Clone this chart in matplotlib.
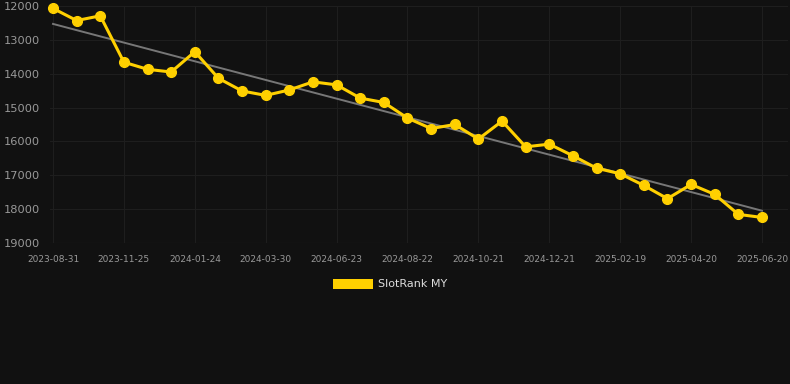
import numpy as np
import matplotlib.pyplot as plt
from matplotlib.patches import Patch

# rank per snapshot (lower is better, axis inverted)
ranks = [12070, 12430, 12290, 13660, 13870, 13950, 13350, 14135, 14510, 14640,
         14480, 14240, 14330, 14720, 14850, 15310, 15620, 15500, 15930, 15400,
         16160, 16080, 16425, 16790, 16955, 17300, 17690, 17270, 17565, 18155,
         18245]
tick_labels = ['2023-08-31', '2023-11-25', '2024-01-24', '2024-03-30', '2024-06-23',
               '2024-08-22', '2024-10-21', '2024-12-21', '2025-02-19', '2025-04-20',
               '2025-06-20']
yticks = [12000, 13000, 14000, 15000, 16000, 17000, 18000, 19000]

bg = '#111111'
x = np.arange(len(ranks))

fig = plt.figure(figsize=(7.9, 3.84), dpi=100, facecolor=bg)
ax = fig.add_axes([50 / 790, 1 - 243 / 384, 738 / 790, 237 / 384], facecolor=bg)

# linear trend
k, b = np.polyfit(x, ranks, 1)
ax.plot(x, k * x + b, color='#777777', lw=1.4, zorder=2)

ax.plot(x, ranks, color='#FFD000', lw=2.2, marker='o', markersize=7,
        clip_on=False, zorder=3)

ax.set_ylim(19000, 12000)
ax.set_xlim(-3 / 23.63, 30 + 26 / 23.63)
ax.set_yticks(yticks)
ax.set_xticks(x[::3])
ax.set_xticklabels(tick_labels)

ax.grid(True, color='#1e1e1e', lw=0.8)
for s in ax.spines.values():
    s.set_visible(False)
ax.axhline(19000, color='#2b2b2b', lw=0.8, zorder=1)
ax.tick_params(axis='y', length=0, pad=7, labelsize=8.2, labelcolor='#999999')
ax.tick_params(axis='x', length=0, pad=9, labelsize=6.5, labelcolor='#999999')

fig.legend(handles=[Patch(facecolor='#FFD000', edgecolor='none', label='SlotRank MY')],
           loc='center', bbox_to_anchor=(390 / 790, 1 - 284 / 384), frameon=False,
           handlelength=3.6, handleheight=1.0, handletextpad=0.5,
           fontsize=8, labelcolor='#dddddd')

fig.savefig('out.png', dpi=100, facecolor=bg)
